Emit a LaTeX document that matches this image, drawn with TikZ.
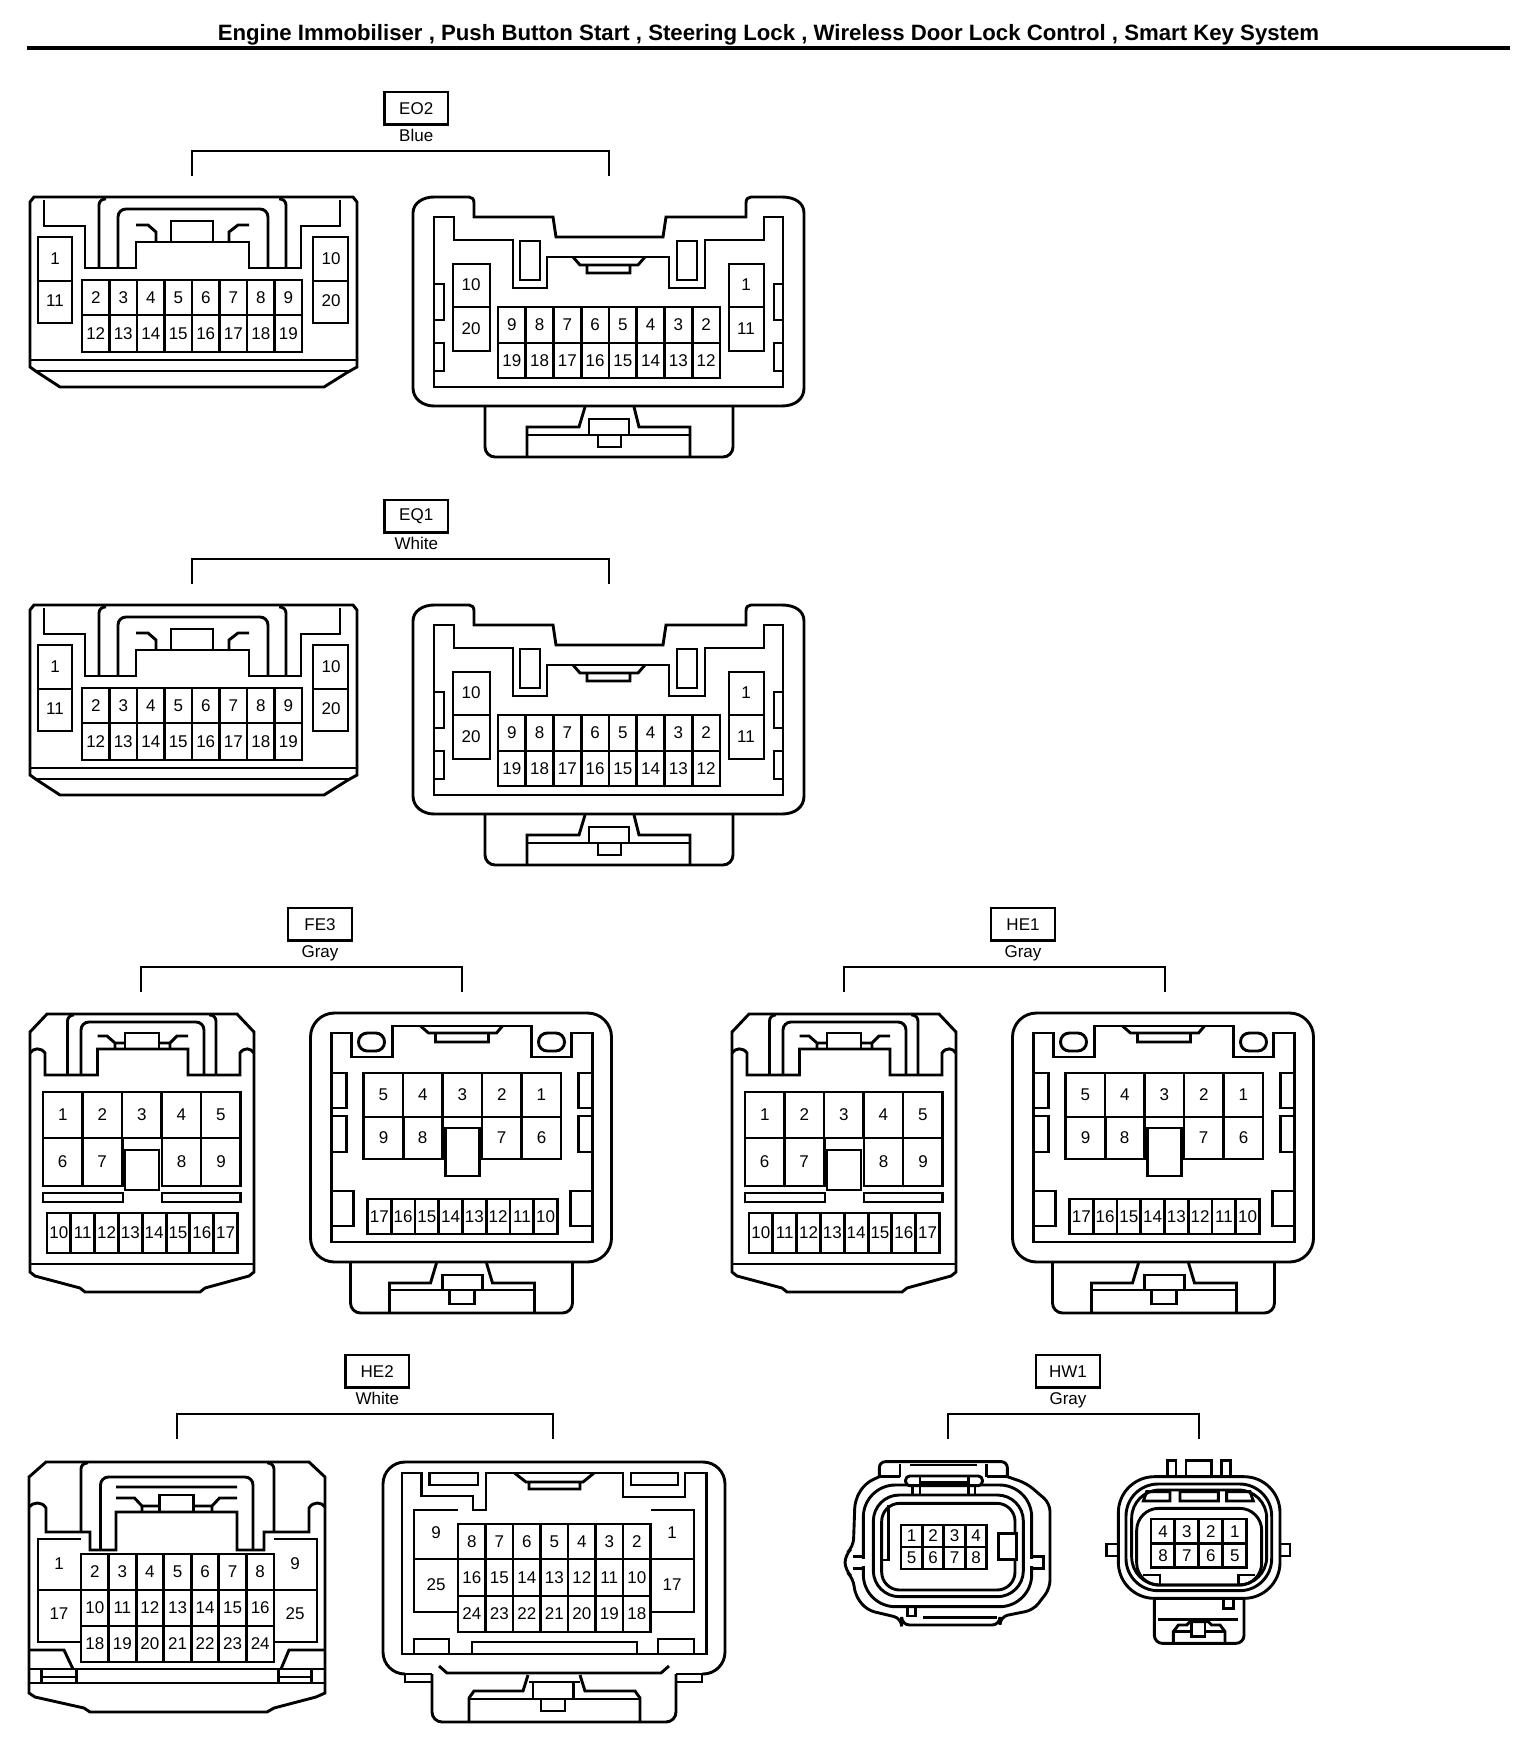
\documentclass[tikz,border=0pt]{standalone}
\usepackage{fontspec}
\setmainfont{Liberation Sans}
\newcount\pinno
\newcommand\pinfont{\fontsize{8.5}{10}\selectfont}
\tikzset{
 x=0.5pt,y=-0.5pt,
 ln/.style={draw=black,line width=1.45pt,line join=miter,line cap=butt},
 pin/.style={inner sep=0pt,font=\pinfont,text=black},
 tagbox/.style={draw=black,line width=1.45pt,inner sep=0pt,font=\pinfont,text=black},
 tagtxt/.style={inner sep=0pt,font=\pinfont,anchor=base,text=black}
}
% row of cells: n, x0, x1, y0, y1, labels
\newcommand\cellrow[6]{%
 \draw[ln] (#2,#4) rectangle (#3,#5);
 \foreach \lab [count=\ii] in {#6}{%
  \pgfmathsetmacro\cx{#2+(\ii-0.5)*(#3-#2)/#1}%
  \pgfmathsetmacro\cy{(#4+#5)/2}%
  \pgfmathsetmacro\sx{#2+(\ii-1)*(#3-#2)/#1}%
  \ifnum\ii>1 \draw[ln] (\sx,#4) -- (\sx,#5);\fi
  \global\advance\pinno by 1
  \node[pin] (pin\the\pinno) at (\cx,\cy) {\lab};
 }%
}
% text, colour, box x0, box x1, Y, bracket x0, bracket x1
\newcommand\conntag[7]{%
 \pgfmathsetmacro\ba{#5}\pgfmathsetmacro\bb{#5+32.5}\pgfmathsetmacro\bc{#5+49.5}%
 \pgfmathsetmacro\bd{#5+59}\pgfmathsetmacro\be{#5+84}%
 \pgfmathsetmacro\bm{(#3+#4)/2}\pgfmathsetmacro\bn{(\ba+\bb)/2}%
 \pgfmathsetmacro\bw{(#4-#3)*0.5}\pgfmathsetmacro\bh{(\bb-\ba)*0.5}%
 \node[tagbox,minimum width=\bw pt,minimum height=\bh pt] (box#1) at (\bm,\bn) {#1};
 \node[tagtxt] (col#1) at (\bm,\bc) {#2};
 \coordinate (bl#1) at (#6,\be);
 \coordinate (br#1) at (#7,\be);
 \draw[ln] (bl#1) -- (#6,\bd) -- (#7,\bd) -- (br#1);
}
\newcommand\eoconn{%
 % plug
 \draw[ln] (30,202) -- (34,197) -- (353,197) -- (357,202) -- (357,367) -- (348,372) -- (324,387) -- (60,387) -- (37,372) -- (30,367) -- cycle;
 \draw[ln] (30,360) -- (357,360) (37,371) -- (348,371);
 \draw[ln] (44,200) -- (44,226) -- (85,226) -- (85,268) -- (136,268) -- (136,242) -- (249,242) -- (249,268) -- (301,268) -- (301,226) -- (340,226) -- (340,200);
 \draw[ln,rounded corners=3pt] (99,268) -- (99,199) -- (106,199);
 \draw[ln,rounded corners=3pt] (286,268) -- (286,199) -- (279,199);
 \draw[ln,rounded corners=4pt] (118,268) -- (118,209) -- (268,209) -- (268,268);
 \draw[ln] (136,225) -- (148,225) -- (156,232) -- (156,242);
 \draw[ln] (249,225) -- (238,225) -- (229,232) -- (229,242);
 \draw[ln] (171,242) -- (171,221) -- (213,221) -- (213,242);
 \draw[ln] (38,237) rectangle (72,323) (38,281) -- (72,281);
 \draw[ln] (313,237) rectangle (348,323) (313,281) -- (348,281);
 \node[pin] (n1a) at (55,259) {1}; \node[pin] (n1b) at (55,301) {11};
 \node[pin] (n1c) at (331,259) {10}; \node[pin] (n1d) at (331,301) {20};
 \cellrow{8}{82}{302}{280}{315}{2,3,4,5,6,7,8,9}
 \cellrow{8}{82}{302}{315}{352}{12,13,14,15,16,17,18,19}
 % socket
 \draw[ln] (413,213) .. controls (413,203) and (423,197) .. (434,197) -- (469,197) .. controls (472,197) and (474,199) .. (474,203) -- (474,217) -- (553,217) -- (556,237) -- (663,237) -- (666,217) -- (743,217) -- (746,217) -- (746,203) .. controls (746,199) and (748,197) .. (751,197) -- (782,197) .. controls (795,197) and (804,203) .. (804,213) -- (804,388) .. controls (804,399) and (795,406) .. (782,406) -- (434,406) .. controls (423,406) and (413,399) .. (413,388) -- cycle;
 \draw[ln] (434,217) -- (454,217) -- (454,240) -- (513,240) -- (513,288) -- (547,288) -- (547,257) -- (669,257) -- (669,288) -- (705,288) -- (705,240) -- (764,240) -- (764,217) -- (783,217) -- (783,387) -- (434,387) -- cycle;
 \draw[ln] (520,241) rectangle (540,280) (677,241) rectangle (697,280);
 \draw[ln] (573,257) -- (580,265) -- (638,265) -- (645,257) (587,265) -- (587,273) -- (630,273) -- (630,265);
 \draw[ln] (434,284) -- (444,284) -- (444,320) -- (434,320) (434,343) -- (444,343) -- (444,371) -- (434,371);
 \draw[ln] (783,284) -- (774,284) -- (774,320) -- (783,320) (783,343) -- (774,343) -- (774,371) -- (783,371);
 \draw[ln] (453,264) rectangle (490,351) (453,307) -- (490,307);
 \draw[ln] (729,264) rectangle (764,351) (729,307) -- (764,307);
 \node[pin] (n2a) at (471,285) {10}; \node[pin] (n2b) at (471,329) {20};
 \node[pin] (n2c) at (746,285) {1}; \node[pin] (n2d) at (746,329) {11};
 \cellrow{8}{498}{720}{307}{343}{9,8,7,6,5,4,3,2}
 \cellrow{8}{498}{720}{343}{378}{19,18,17,16,15,14,13,12}
 \draw[ln,rounded corners=5pt] (485,406) -- (485,457) -- (733,457) -- (733,406);
 \draw[ln] (585,407) -- (579,427) -- (527,427) -- (527,457);
 \draw[ln] (634,407) -- (639,427) -- (690,427) -- (690,457);
 \draw[ln] (527,435) -- (589,435) -- (589,419) -- (629,419) -- (629,435) -- (690,435);
 \draw[ln] (589,435) -- (629,435) (598,435) -- (598,447) -- (621,447) -- (621,435);
}
\newcommand\feconn{%
 % plug
 \draw[ln] (30,1032) -- (47,1014) -- (237,1014) -- (254,1032) -- (254,1272) -- (249,1276) -- (205,1288) -- (200,1292) -- (85,1292) -- (80,1288) -- (35,1276) -- (30,1272) -- cycle;
 \draw[ln] (30,1264) -- (254,1264);
 \draw[ln] (30,1053) .. controls (33,1048) and (41,1047) .. (45,1053) -- (45,1075) -- (97.5,1075) -- (97.5,1049) -- (188,1049) -- (188,1075) -- (240,1075) -- (240,1053) .. controls (244,1047) and (251,1048) .. (254,1053);
 \draw[ln,rounded corners=3pt] (67.5,1075) -- (67.5,1015) -- (74,1015);
 \draw[ln,rounded corners=3pt] (216,1075) -- (216,1015) -- (209,1015);
 \draw[ln,rounded corners=4pt] (81,1075) -- (81,1022) -- (204,1022) -- (204,1075);
 \draw[ln] (97.5,1036) -- (107,1036) -- (115,1043) -- (115,1049) (115,1043) -- (125,1043);
 \draw[ln] (188,1036) -- (177,1036) -- (170,1043) -- (170,1049) (170,1043) -- (159,1043);
 \draw[ln] (125,1049) -- (125,1033) -- (159,1033) -- (159,1049);
 \cellrow{5}{43}{240.5}{1092}{1138}{1,2,3,4,5}
 \draw[ln] (43,1138) -- (43,1186) -- (122.5,1186) -- (122.5,1138) (162,1138) -- (162,1186) -- (240.5,1186) -- (240.5,1138) (82.5,1138) -- (82.5,1186) (201,1138) -- (201,1186);
 \node[pin] (n3a) at (62.5,1162) {6}; \node[pin] (n3b) at (102,1162) {7};
 \node[pin] (n3c) at (181.5,1162) {8}; \node[pin] (n3d) at (221,1162) {9};
 \draw[ln] (125,1150) rectangle (159,1190);
 \draw[ln] (43,1193) rectangle (123,1202) (162,1193) rectangle (240.5,1202);
 \cellrow{8}{47}{237.5}{1213}{1253}{10,11,12,13,14,15,16,17}
 % socket
 \begin{scope}[shift={(-1.5,0)}]
 \draw[ln,rounded corners=12pt] (312,1013) rectangle (613,1262);
 \draw[ln] (333,1033) -- (353,1033) -- (353,1057) -- (394,1057) -- (394,1026) -- (533,1026) -- (533,1057) -- (573,1057) -- (573,1033) -- (594,1033) -- (594,1242) -- (333,1242) -- cycle;
 \draw[ln] (422,1026) -- (430,1033) -- (498,1033) -- (504,1026) (437,1033) -- (437,1042) -- (490,1042) -- (490,1033);
 \draw[ln,rounded corners=4.4pt] (360,1033) rectangle (386,1051);
 \draw[ln,rounded corners=4.4pt] (540,1033) rectangle (566,1051);
 \draw[ln] (333,1073) -- (348,1073) -- (348,1108) -- (333,1108) (333,1116) -- (348,1116) -- (348,1152) -- (333,1152);
 \draw[ln] (594,1073) -- (580,1073) -- (580,1108) -- (594,1108) (594,1116) -- (580,1116) -- (580,1152) -- (594,1152);
 \draw[ln] (333,1191) -- (355,1191) -- (355,1226) -- (333,1226) (594,1191) -- (572,1191) -- (572,1226) -- (594,1226);
 \cellrow{5}{365}{562.5}{1073}{1117}{5,4,3,2,1}
 \draw[ln] (365,1117) -- (365,1159) -- (444,1159) -- (444,1117) (483.5,1117) -- (483.5,1159) -- (562.5,1159) -- (562.5,1117) (405,1117) -- (405,1159) (523,1117) -- (523,1159);
 \node[pin] (n4a) at (385,1138) {9}; \node[pin] (n4b) at (424,1138) {8};
 \node[pin] (n4c) at (503,1138) {7}; \node[pin] (n4d) at (543,1138) {6};
 \draw[ln,fill=white] (447,1128) rectangle (481,1176);
 \cellrow{8}{369}{559}{1199}{1234}{17,16,15,14,13,12,11,10}
 \draw[ln,rounded corners=5pt] (352,1262) -- (352,1313) -- (574,1313) -- (574,1262);
 \draw[ln] (438,1263) -- (432,1283) -- (391,1283) -- (391,1313) (488,1263) -- (494,1283) -- (536,1283) -- (536,1313);
 \draw[ln] (391,1290) -- (443.6,1290) -- (443.6,1275) -- (484,1275) -- (484,1290) -- (536,1290) (443.6,1290) -- (484,1290);
 \draw[ln] (451,1290) -- (451,1304) -- (475.6,1304) -- (475.6,1290);
 \end{scope}
}
\begin{document}
\begin{tikzpicture}
\useasboundingbox[fill=white] (0,0) rectangle (1536,1744);
\node[inner sep=0pt,anchor=base,font=\fontsize{11.1}{13}\selectfont\bfseries] (title) at (768.5,41) {Engine Immobiliser , Push Button Start , Steering Lock , Wireless Door Lock Control , Smart Key System};
\coordinate (rl) at (27,47.7); \coordinate (rr) at (1510,47.7);
\draw[line width=1.9pt] (rl) -- (rr);

\conntag{EO2}{Blue}{384.5}{448}{92}{192}{609}
\eoconn
\conntag{EQ1}{White}{384.5}{448}{500}{192}{609}
\begin{scope}[shift={(0,408)}]\eoconn\end{scope}

\conntag{FE3}{Gray}{288}{352}{908}{141}{462}
\feconn
\conntag{HE1}{Gray}{991}{1055}{908}{844}{1165}
\begin{scope}[shift={(702,0)}]\feconn\end{scope}

\conntag{HE2}{White}{345.5}{409}{1355}{177}{553}
% HE2 plug
\draw[ln] (29,1477) -- (46,1462) -- (309,1462) -- (325,1477) -- (325,1693) -- (316,1697) -- (274,1708) -- (267,1712) -- (90,1712) -- (84,1708) -- (35,1697) -- (29,1693) -- cycle;
\draw[ln] (29,1507) .. controls (33,1502) and (42,1501) .. (46,1508) -- (46,1532) -- (90,1532) -- (90,1550) -- (116,1550) -- (116,1512) -- (237,1512) -- (237,1550) -- (264,1550) -- (264,1532) -- (309,1532) -- (309,1508) .. controls (313,1501) and (322,1502) .. (325,1507);
\draw[ln,rounded corners=3pt] (81,1532) -- (81,1463) -- (88,1463);
\draw[ln,rounded corners=3pt] (274,1532) -- (274,1463) -- (267,1463);
\draw[ln,rounded corners=4pt] (100.5,1550) -- (100.5,1477) -- (253,1477) -- (253,1550);
\draw[ln] (116,1487) -- (237,1487) (116,1498) -- (134.5,1498) -- (142,1506) -- (159.5,1506) (142,1506) -- (142,1512);
\draw[ln] (237,1498) -- (219.5,1498) -- (212,1506) -- (193.5,1506) (212,1506) -- (212,1512);
\draw[ln] (159.5,1512) -- (159.5,1495) -- (193.5,1495) -- (193.5,1512);
\draw[ln] (81,1539) -- (38,1539) -- (38,1642) -- (81,1642) (38,1590) -- (81,1590);
\draw[ln] (274,1539) -- (317,1539) -- (317,1642) -- (274,1642) (274,1590) -- (317,1590);
\node[pin] (h1a) at (59,1564) {1}; \node[pin] (h1b) at (59,1614) {17};
\node[pin] (h1c) at (295,1564) {9}; \node[pin] (h1d) at (295,1614) {25};
\cellrow{7}{81}{274}{1554}{1590}{2,3,4,5,6,7,8}
\cellrow{7}{81}{274}{1590}{1626}{10,11,12,13,14,15,16}
\cellrow{7}{81}{274}{1626}{1662}{18,19,20,21,22,23,24}
\draw[ln] (29,1650) -- (64,1650) -- (73,1669) (325,1650) -- (289,1650) -- (281,1669);
\draw[ln] (29,1669) -- (325,1669) (29,1683) -- (325,1683);
\draw[ln] (41.5,1669) -- (41.5,1683) (76.5,1669) -- (76.5,1683) (41.5,1677) -- (76.5,1677);
\draw[ln] (278.5,1669) -- (278.5,1683) (311.5,1669) -- (311.5,1683) (278.5,1677) -- (311.5,1677);
% HE2 socket
\draw[ln,rounded corners=11pt] (405,1674) -- (383,1674) -- (383,1462) -- (725,1462) -- (725,1674) -- (702,1674);
\draw[ln] (405,1674) -- (405,1682) -- (432,1682) (405,1674) -- (432,1674) (702,1674) -- (702,1682) -- (676,1682) (702,1674) -- (676,1674);
\draw[ln,rounded corners=5pt] (432,1674) -- (432,1722) -- (676,1722) -- (676,1674);
\draw[ln] (439,1666) -- (447,1673) -- (661,1673) -- (669,1666);
\draw[ln] (402,1473) -- (421.5,1473) -- (421.5,1496) -- (473,1496) -- (473,1510) -- (486,1510) -- (486,1473) -- (623,1473) -- (623,1497) -- (685,1497) -- (685,1473) -- (706.5,1473) -- (706.5,1654) -- (402,1654) -- cycle;
\draw[ln] (429.5,1473) rectangle (478,1485) (631,1473) rectangle (678,1485);
\draw[ln] (514.5,1473) -- (526,1482) -- (583,1482) -- (594,1473) (529,1482) -- (529,1489) -- (580,1489) -- (580,1482);
\draw[ln] (458,1510) -- (414,1510) -- (414,1612) -- (458,1612) (414,1559) -- (458,1559);
\draw[ln] (651,1510) -- (694,1510) -- (694,1612) -- (651,1612) (651,1559) -- (694,1559);
\node[pin] (h2a) at (436,1533) {9}; \node[pin] (h2b) at (436,1585) {25};
\node[pin] (h2c) at (672,1533) {1}; \node[pin] (h2d) at (672,1585) {17};
\cellrow{7}{458}{650.5}{1524}{1559}{8,7,6,5,4,3,2}
\cellrow{7}{458}{650.5}{1559}{1596}{16,15,14,13,12,11,10}
\cellrow{7}{458}{650.5}{1596}{1632}{24,23,22,21,20,19,18}
\draw[ln] (414,1654) -- (414,1639) -- (449,1639) -- (449,1654) (472,1654) -- (472,1642) -- (637,1642) -- (637,1654) (658,1654) -- (658,1639) -- (694,1639) -- (694,1654);
\draw[ln] (528,1675) -- (523,1691) -- (474,1691) -- (469,1698) -- (469,1722) (580,1675) -- (585,1691) -- (635,1691) -- (640,1698) -- (640,1722);
\draw[ln] (529,1682) -- (580,1682) (533,1682) -- (533,1699) (573.5,1682) -- (573.5,1699) (469,1699) -- (640,1699);
\draw[ln] (541,1699) -- (541,1711) -- (565,1711) -- (565,1699);

\conntag{HW1}{Gray}{1036}{1100}{1355}{948}{1199}
\begin{scope}[shift={(820,1340)},x=0.16667pt,y=-0.16667pt]
 % left
 \draw[ln,rounded corners=3pt] (178,410) -- (178,365) -- (562,365) -- (562,410);
 \draw[ln] (240,372) -- (240,410) (500,372) -- (500,410) (178,410) -- (240,410) (500,410) -- (562,410) (270,375) -- (470,375);
 \draw[ln,rounded corners=4pt] (178,410) -- (135,430) -- (105,480) -- (100,620) -- (75,645) -- (75,690) -- (100,715) -- (105,765) -- (140,810) -- (245,835) -- (245,855) -- (540,855) -- (540,830) -- (640,810) -- (690,745) -- (690,490) -- (620,430) -- (562,410);
 \draw[ln,rounded corners=16pt] (130,435) rectangle (635,800);
 \draw[white,line width=2pt] (130,656) -- (130,679) (635,656) -- (635,679);
 \draw[ln,rounded corners=13pt] (160,465) rectangle (610,770);
 \draw[ln,rounded corners=9pt] (185,490) rectangle (585,750);
 \draw[ln,fill=white,rounded corners=2pt] (257,437) -- (257,408) -- (487,408) -- (487,437) -- cycle;
 \draw[ln] (300,410) -- (300,465) (445,410) -- (445,465) (300,428) -- (445,428) (277,437) -- (277,465) (465,437) -- (465,465);
 \draw[ln] (100,650) -- (130,650) (100,685) -- (130,685) (635,650) -- (670,650) -- (670,685) -- (635,685);
 \draw[ln] (205,495) -- (205,660) -- (185,660);
 \draw[ln,fill=white] (535,580) rectangle (590,658);
 \cellrow{4}{243}{500}{555}{621}{1,2,3,4}
 \cellrow{4}{243}{500}{621}{687}{5,6,7,8}
 \draw[ln] (262,800) -- (262,828) -- (287,828) -- (287,800) (310,832) -- (530,832);
 % right
 \draw[ln] (1042,410) -- (1042,362) -- (1068,362) -- (1068,410) (1098,410) -- (1098,362) -- (1175,362) -- (1175,410) (1205,410) -- (1205,362) -- (1232,362) -- (1232,410);
 \draw[ln,rounded corners=18pt] (895,410) rectangle (1380,775);
 \draw[ln,rounded corners=16pt] (918,432) rectangle (1355,752);
 \draw[ln,rounded corners=14pt] (935,450) rectangle (1340,735);
 \draw[ln,rounded corners=11pt] (950,505) rectangle (1325,735);
 \draw[ln] (970,483) -- (980,455) -- (1050,455) -- (1050,483) -- cycle (1080,455) rectangle (1195,483) (1220,483) -- (1220,455) -- (1290,455) -- (1300,483) -- cycle;
 \draw[ln] (970,705) -- (1020,705) -- (1020,735) (1305,705) -- (1255,705) -- (1255,735);
 \cellrow{4}{993}{1280}{537}{610}{4,3,2,1}
 \cellrow{4}{993}{1280}{610}{683}{8,7,6,5}
 \draw[ln] (895,612) -- (860,612) -- (860,648) -- (895,648) (1380,612) -- (1410,612) -- (1410,648) -- (1380,648);
 \draw[ln,rounded corners=4pt] (1003,778) -- (1003,910) -- (1272,910) -- (1272,778);
 \draw[ln] (1015,838) -- (1255,838) (1210,778) -- (1210,805) -- (1240,805) -- (1240,778);
 \draw[ln] (1060,910) -- (1060,875) -- (1075,855) -- (1100,855) -- (1110,845) -- (1165,845) -- (1175,855) -- (1200,855) -- (1215,875) -- (1215,910);
 \draw[ln] (1060,875) -- (1115,875) (1155,875) -- (1215,875) (1115,850) -- (1115,890) -- (1155,890) -- (1155,850);
\end{scope}
\end{tikzpicture}
\end{document}
